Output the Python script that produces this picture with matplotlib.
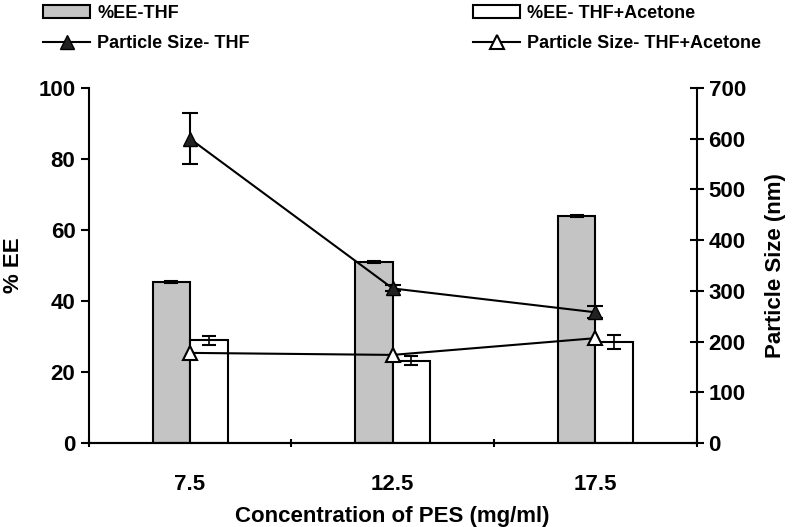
import matplotlib.pyplot as plt
import numpy as np

plt.rcParams['font.family'] = ['Liberation Sans', 'DejaVu Sans']
plt.rcParams['font.weight'] = 'bold'

# Data
concentrations = ['7.5', '12.5', '17.5']
ee_thf = [45.5, 51.0, 64.0]
ee_thf_err = [0.3, 0.3, 0.3]
ee_acetone = [29.0, 23.2, 28.5]
ee_acetone_err = [1.3, 1.3, 2.0]
size_thf = [600, 305, 258]
size_thf_err = [50, 6, 12]
size_acetone = [178, 174, 207]

fig = plt.figure(figsize=(7.99, 5.27), dpi=100)
ax = fig.add_axes([0.111, 0.159, 0.761, 0.674])
ax2 = ax.twinx()

x = np.arange(len(concentrations)) + 0.5
w = 0.185

b1 = ax.bar(x - w / 2, ee_thf, w, color='#c4c4c4', edgecolor='black', linewidth=1.5, zorder=2)
ax.errorbar(x - w / 2, ee_thf, yerr=ee_thf_err, fmt='none', ecolor='black',
            capsize=5, elinewidth=1.2, capthick=1.5, zorder=3)
b2 = ax.bar(x + w / 2, ee_acetone, w, color='white', edgecolor='black', linewidth=1.5, zorder=2)
ax.errorbar(x + w / 2, ee_acetone, yerr=ee_acetone_err, fmt='none', ecolor='black',
            capsize=5, elinewidth=1.2, capthick=1.5, zorder=3)

ax2.errorbar(x, size_thf, yerr=size_thf_err, fmt='none', ecolor='black',
             capsize=6, capthick=1.5, elinewidth=1.5)
l1, = ax2.plot(x, size_thf, color='black', marker='^', markersize=10,
               markerfacecolor='#222222', linewidth=1.5)
l2, = ax2.plot(x, size_acetone, color='black', marker='^', markersize=10,
               markerfacecolor='white', markeredgewidth=1.5, linewidth=1.5)

ax.set_xlim(0, 3)
ax.set_ylim(0, 100)
ax2.set_ylim(0, 700)
ax.set_yticks(range(0, 101, 20))
ax2.set_yticks(range(0, 701, 100))
ax.set_xticks([0, 1, 2, 3])
ax.set_xticklabels([])
ax.set_xticks(x, minor=True)
ax.set_xticklabels(concentrations, minor=True)
ax.tick_params(axis='x', which='minor', length=0, pad=22, labelsize=16)
ax.tick_params(axis='x', which='major', length=6, width=1.5, direction='inout')
ax.tick_params(axis='y', length=6, width=1.5, labelsize=16, direction='out')
ax2.tick_params(axis='y', length=10, width=1.5, labelsize=16, direction='inout')

for a in (ax, ax2):
    a.spines['top'].set_visible(False)
    for s in ('left', 'right', 'bottom'):
        a.spines[s].set_linewidth(1.5)
ax.spines['right'].set_visible(False)
ax2.spines['left'].set_visible(False)

ax.set_xlabel('Concentration of PES (mg/ml)', fontsize=16, fontweight='bold', labelpad=8)
ax.set_ylabel('% EE', fontsize=16, fontweight='bold', labelpad=10)
ax2.set_ylabel('Particle Size (nm)', fontsize=16, fontweight='bold', labelpad=14)

leg_kw = dict(loc='upper left', frameon=False, handlelength=2.6, handletextpad=0.4,
              labelspacing=0.75, borderaxespad=0, prop={'weight': 'bold', 'size': 13})
fig.legend([b1, l1], ['%EE-THF', 'Particle Size- THF'],
           bbox_to_anchor=(0.045, 1.005), **leg_kw)
fig.legend([b2, l2], ['%EE- THF+Acetone', 'Particle Size- THF+Acetone'],
           bbox_to_anchor=(0.583, 1.005), **leg_kw)

plt.savefig('out.png', dpi=100)
